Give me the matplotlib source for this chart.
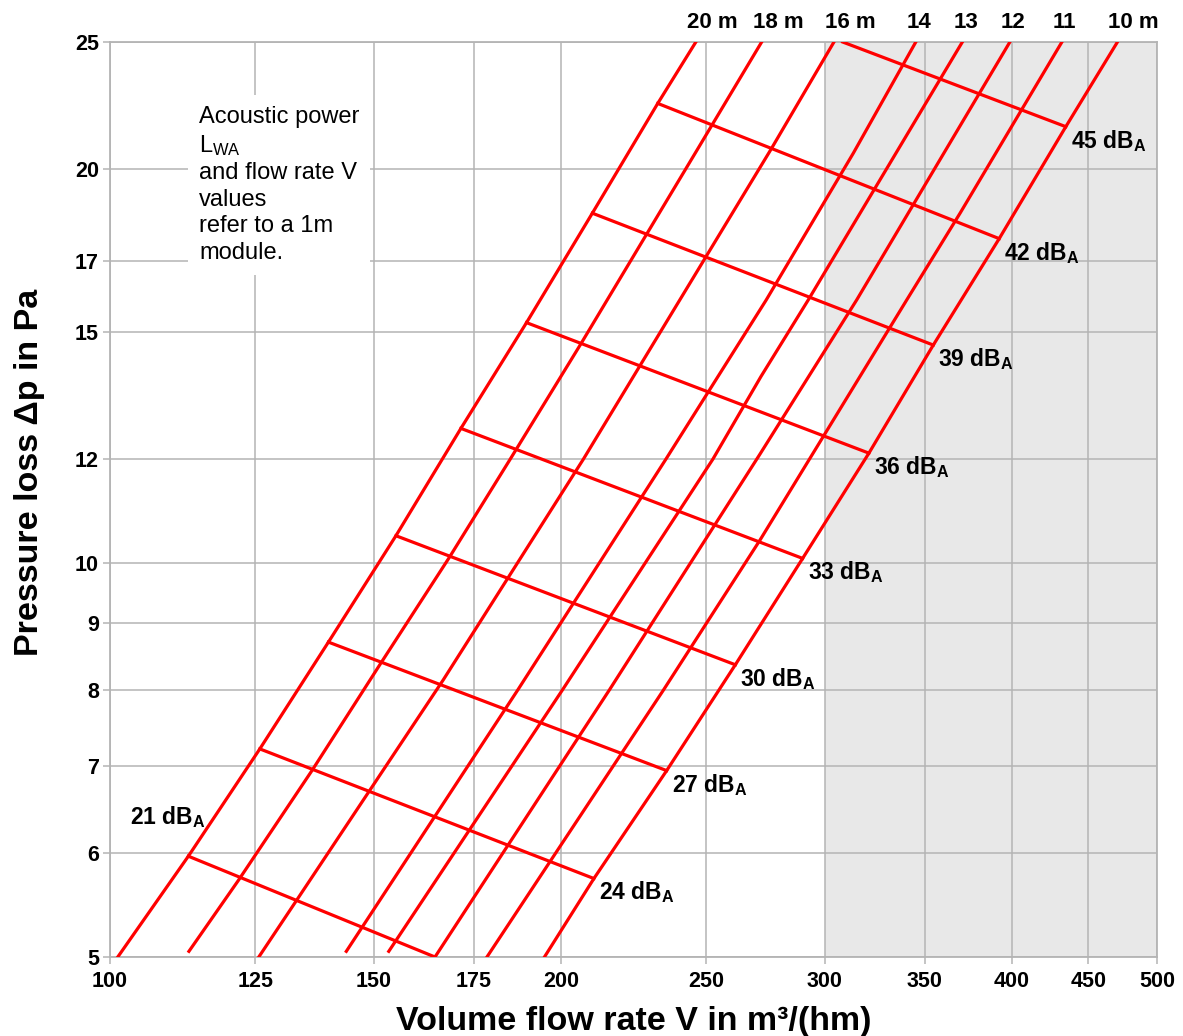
import matplotlib
matplotlib.use("Agg")
import matplotlib.pyplot as plt
from matplotlib.ticker import FixedLocator, FixedFormatter, NullLocator

plt.rcParams['font.family'] = ['Liberation Sans', 'DejaVu Sans']
plt.rcParams['mathtext.default'] = 'regular'

# ---------------- data ----------------
x_ticks = [100, 125, 150, 175, 200, 250, 300, 350, 400, 450, 500]
y_ticks = [5, 6, 7, 8, 9, 10, 12, 15, 17, 20, 25]

length_labels = ['20 m', '18 m', '16 m', '14', '13', '12', '11', '10 m']

v_20m = [101.2, 112.8, 125.9, 139.9, 155.2, 171.5, 189.7, 209.9, 232.1, 246.1]
p_20m = [5.00, 5.97, 7.21, 8.70, 10.49, 12.67, 15.26, 18.5, 22.44, 25.0]

v_18m = [112.9, 121.8, 136.4, 151.6, 168.5, 184.9, 206.0, 246.6, 272.3]
p_18m = [5.05, 5.72, 6.94, 8.38, 10.10, 11.99, 14.67, 20.68, 25.0]

v_16m = [125.7, 133.3, 166.9, 207.0, 276.1, 304.3]
p_16m = [5.00, 5.53, 8.14, 12.0, 20.68, 25.0]

v_14m = [143.8, 187.2, 235.0, 274.2, 313.5, 345.1]
p_14m = [5.05, 8.0, 12.0, 15.88, 20.56, 25.0]

v_13m = [153.5, 200.5, 252.6, 272.0, 292.5, 370.7]
p_13m = [5.05, 8.0, 12.0, 13.88, 15.88, 25.0]

v_12m = [164.8, 215.5, 271.6, 315.1, 398.8]
p_12m = [5.00, 8.0, 12.11, 15.88, 25.0]

v_11m = [178.5, 234.2, 271.6, 340.3, 369.4, 413.4, 432.0]
p_11m = [5.00, 8.0, 10.41, 15.88, 18.5, 22.97, 25.0]

v_10m = [195.0, 210.4, 235.3, 261.5, 290.0, 321.1, 354.5, 392.3, 434.6, 470.5]
p_10m = [5.00, 5.74, 6.94, 8.36, 10.08, 12.13, 14.67, 17.69, 21.54, 25.0]

db_levels = [21, 24, 27, 30, 33, 36, 39, 42, 45]
db_v_start = [112.8, 125.9, 139.9, 155.2, 171.5, 189.7, 209.9, 232.1, 308.4]
db_p_start = [5.97, 7.21, 8.70, 10.49, 12.67, 15.26, 18.5, 22.44, 25.0]
db_v_end = [164.8, 210.4, 235.3, 261.5, 290.0, 321.1, 354.5, 392.3, 434.6]
db_p_end = [5.00, 5.74, 6.94, 8.36, 10.08, 12.13, 14.67, 17.69, 21.54]

note_text = ("Acoustic power\nL$_{WA}$\nand flow rate V\nvalues\n"
             "refer to a 1m\nmodule.")

# ---------------- figure ----------------
W, H = 1183, 1036
fig = plt.figure(figsize=(W / 100, H / 100), dpi=100)
ax = fig.add_axes([110 / W, 1 - 957 / H, (1157 - 110) / W, (957 - 42) / H])
ax.set_xscale('log')
ax.set_yscale('log')
ax.set_xlim(100, 500)
ax.set_ylim(5, 25)

grid_c = '#b4b4b4'
ax.axvspan(300, 500, color='#e8e8e8', zorder=0, lw=0)
ax.set_axisbelow(True)

ax.xaxis.set_major_locator(FixedLocator(x_ticks))
ax.xaxis.set_major_formatter(FixedFormatter([str(t) for t in x_ticks]))
ax.xaxis.set_minor_locator(NullLocator())
ax.yaxis.set_major_locator(FixedLocator(y_ticks))
ax.yaxis.set_major_formatter(FixedFormatter([str(t) for t in y_ticks]))
ax.yaxis.set_minor_locator(NullLocator())
ax.grid(True, which='major', color=grid_c, lw=1.1)

for s in ax.spines.values():
    s.set_color(grid_c)
    s.set_linewidth(1.3)

ax.tick_params(axis='both', which='major', color=grid_c, width=1.1, length=5,
               labelsize=15.5)
ax.tick_params(axis='x', pad=5)
ax.tick_params(axis='y', pad=3)
for lab in ax.get_xticklabels() + ax.get_yticklabels():
    lab.set_fontweight('bold')

red = '#ff0000'
lw = 2.3
length_v = [v_20m, v_18m, v_16m, v_14m, v_13m, v_12m, v_11m, v_10m]
length_p = [p_20m, p_18m, p_16m, p_14m, p_13m, p_12m, p_11m, p_10m]
for lab, vv, pp in zip(length_labels, length_v, length_p):
    ax.plot(vv, pp, color=red, lw=lw, zorder=3)
    ax.annotate(lab, xy=(vv[-1], pp[-1]), xytext=(-9 * 0.72, 20 * 0.72),
                textcoords='offset points', ha='left', va='center',
                fontsize=16, fontweight='bold', annotation_clip=False)

for i, db in enumerate(db_levels):
    ax.plot([db_v_start[i], db_v_end[i]], [db_p_start[i], db_p_end[i]],
            color=red, lw=lw, zorder=3)
    label = f"{db} dB$_{{A}}$"
    if i == 0:
        ax.annotate(label, xy=(db_v_start[i], db_p_start[i]),
                    xytext=(17 * 0.72, 39 * 0.72), textcoords='offset points',
                    ha='right', va='center', fontsize=16.5, fontweight='bold')
    else:
        ax.annotate(label, xy=(db_v_end[i], db_p_end[i]),
                    xytext=(5 * 0.72, -14 * 0.72), textcoords='offset points',
                    ha='left', va='center', fontsize=16.5, fontweight='bold')

fig.text(199 / W, 1 - 106 / H, note_text, ha='left', va='top', fontsize=17,
         linespacing=1.26, zorder=5,
         bbox=dict(facecolor='white', edgecolor='none', pad=8))

ax.set_xlabel('Volume flow rate V in m³/(hm)', fontsize=24.5, fontweight='bold',
              labelpad=10)
ax.set_ylabel('Pressure loss Δp in Pa', fontsize=24.5, fontweight='bold')
ax.yaxis.set_label_coords((45 - 110) / 1047, (957 - 472.5) / 915)

fig.savefig('out.png', dpi=100)
